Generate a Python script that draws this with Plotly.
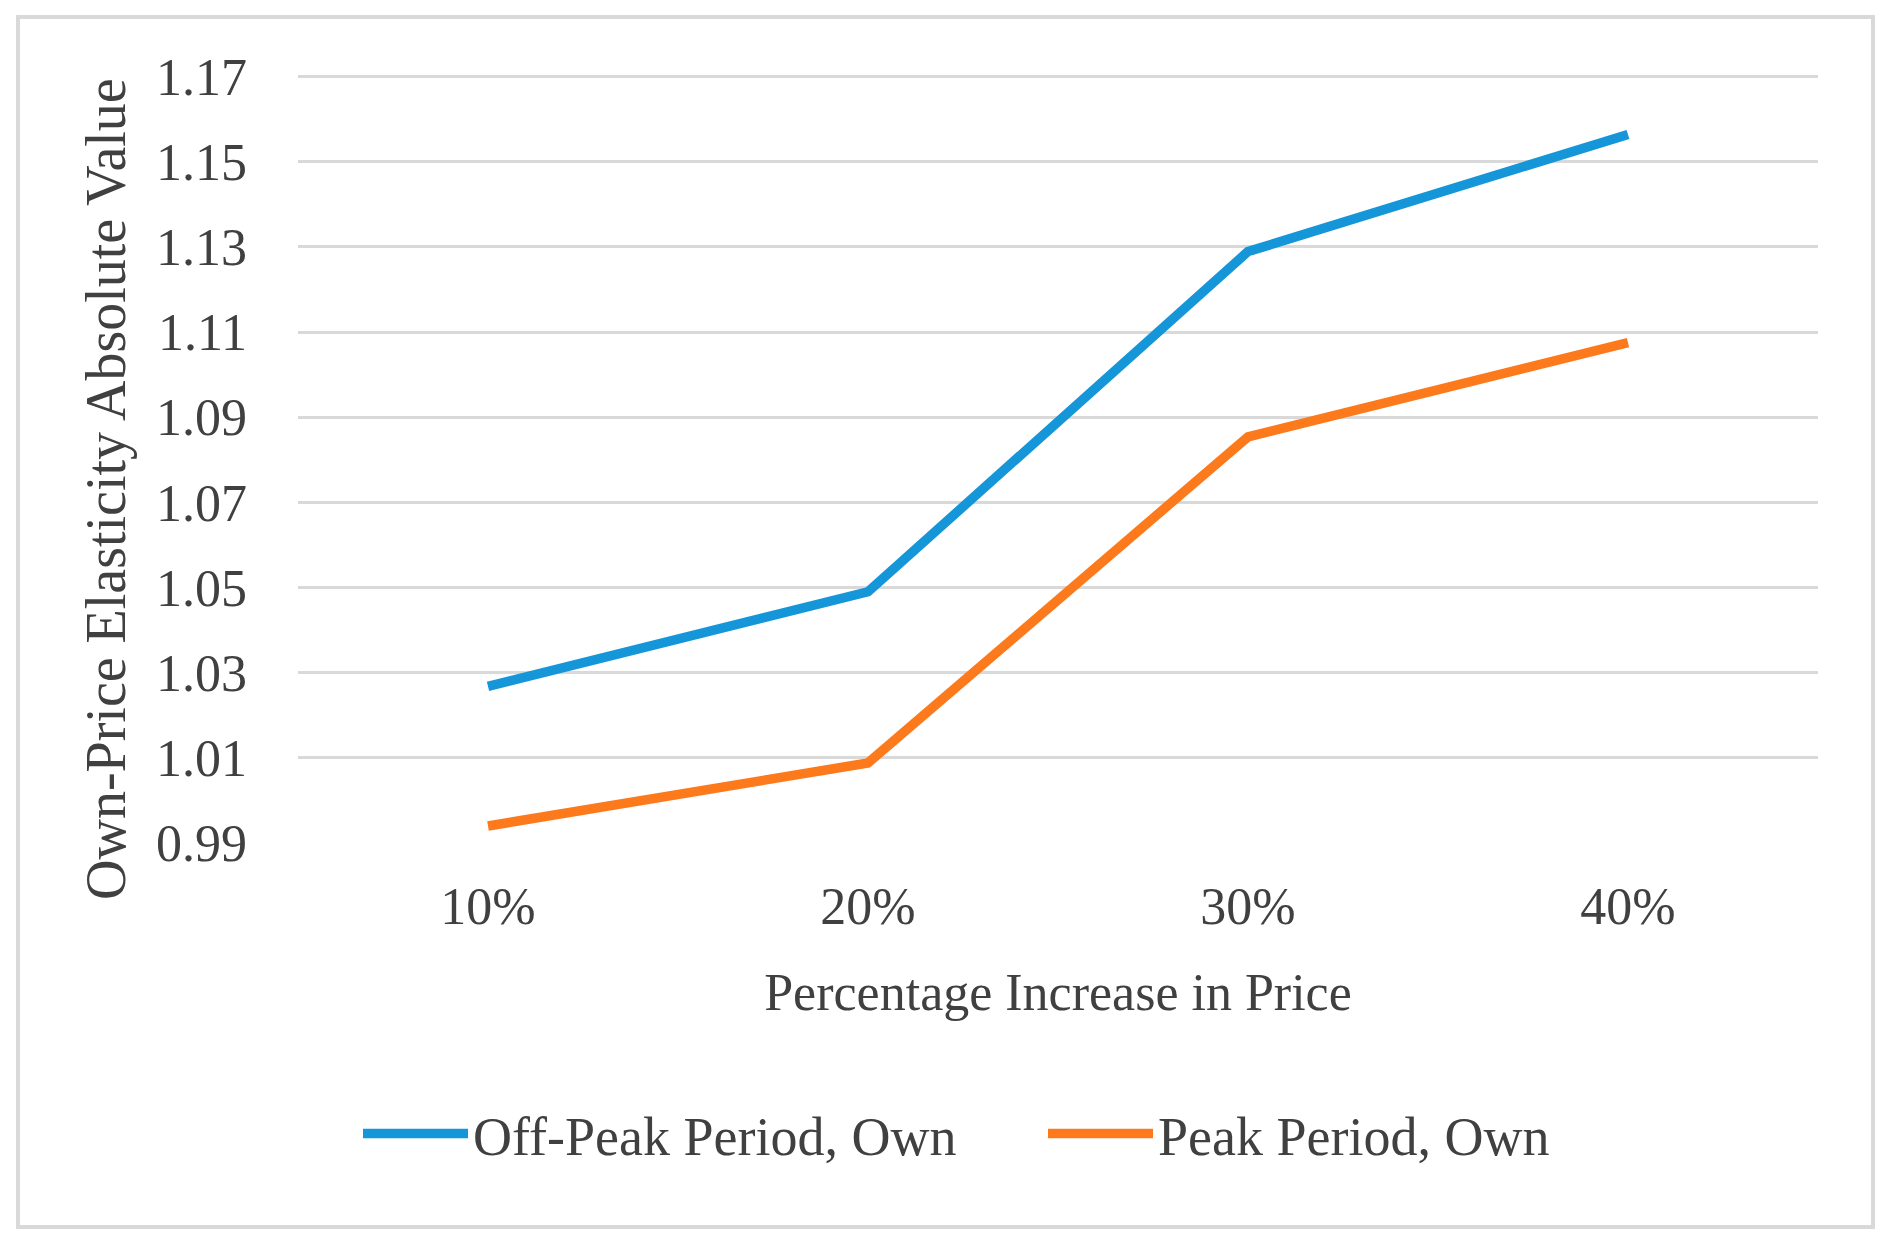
import plotly.graph_objects as go

categories = ["10%", "20%", "30%", "40%"]
off_peak_own = [1.0268, 1.0490, 1.1289, 1.1564]
peak_own = [0.9940, 1.0088, 1.0854, 1.1075]
series_names = ["Off-Peak Period, Own", "Peak Period, Own"]
y_ticks = [0.99, 1.01, 1.03, 1.05, 1.07, 1.09, 1.11, 1.13, 1.15, 1.17]
y_tick_labels = ["0.99", "1.01", "1.03", "1.05", "1.07", "1.09", "1.11", "1.13", "1.15", "1.17"]
x_title = "Percentage Increase in Price"
y_title = "Own-Price Elasticity Absolute Value"

FONT = "Liberation Serif"
TEXT = "#404040"

fig = go.Figure()
fig.add_trace(go.Scatter(x=categories, y=off_peak_own, mode="lines", name=series_names[0],
                         line=dict(color="#1596d8", width=9.5)))
fig.add_trace(go.Scatter(x=categories, y=peak_own, mode="lines", name=series_names[1],
                         line=dict(color="#fd7a1c", width=9.5)))

OFF = 8  # page body offset
W, H = 1895, 1249
Y_MIN, Y_MAX = 0.99, 1.1706
L = 298 - OFF
pw = 1520
ph = round(766 * (Y_MAX - Y_MIN) / 0.18)
T = 843 - OFF - ph
R, B = W - L - pw, H - T - ph


def px_x(x):
    return (x - OFF - L) / pw


def px_y(y):
    return (T + ph - (y - OFF)) / ph


fig.update_layout(
    width=W, height=H,
    margin=dict(l=L, r=R, t=T, b=B),
    paper_bgcolor="white", plot_bgcolor="white",
    font=dict(family=FONT, color=TEXT, size=52),
    showlegend=True,
    legend=dict(orientation="h", x=px_x(358), xanchor="left",
                y=px_y(1134), yanchor="middle",
                font=dict(family=FONT, size=54, color=TEXT),
                itemwidth=105, entrywidth=565, tracegroupgap=0,
                bgcolor="rgba(0,0,0,0)"),
    xaxis=dict(type="category", range=[-0.5, 3.5], showgrid=False, zeroline=False,
               showline=False, ticks="", tickfont=dict(size=52, color=TEXT),
               ticklabelstandoff=28,
               title=dict(text=x_title, font=dict(size=52, color=TEXT), standoff=39)),
    yaxis=dict(range=[Y_MIN, Y_MAX], tickvals=y_ticks, ticktext=y_tick_labels,
               showgrid=True, gridcolor="#d9d9d9", gridwidth=2.5, zeroline=False,
               showline=False, ticks="", tickfont=dict(size=52, color=TEXT),
               ticklabelstandoff=50),
    annotations=[dict(text=y_title, textangle=-90, xref="paper", yref="paper",
                      x=px_x(106), y=px_y(489), xanchor="center", yanchor="middle",
                      showarrow=False, font=dict(family=FONT, size=56, color=TEXT))],
    shapes=[dict(type="rect", xref="paper", yref="paper",
                 x0=px_x(18), x1=px_x(1873),
                 y0=px_y(1227), y1=px_y(17),
                 line=dict(color="#d9d9d9", width=4), fillcolor="rgba(0,0,0,0)", layer="below")],
)

fig.write_html("out.html")
